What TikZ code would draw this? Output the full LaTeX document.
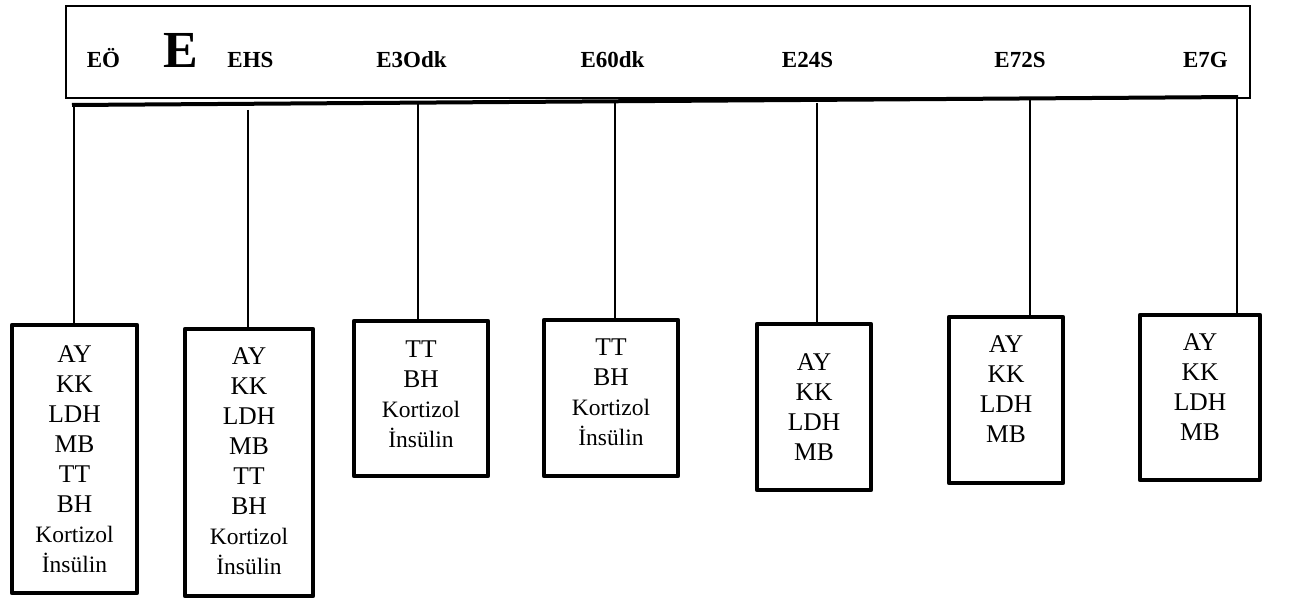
\documentclass[tikz,border=0pt]{standalone}
\usepackage{fontspec}
\setmainfont{Liberation Serif}
\usetikzlibrary{positioning}
\newcommand{\hrm}[1]{{\fontsize{23.5}{29}\selectfont #1}}

\begin{document}
\begin{tikzpicture}[x=1pt,y=-1pt,
  every node/.style={inner sep=0pt,outer sep=0pt},
  tp/.style={font=\fontsize{23}{27}\selectfont\bfseries,anchor=base},
  sample/.style={draw,line width=4.5pt,line join=round},
  list/.style={align=center,anchor=north,font=\fontsize{25.5}{30}\selectfont}]
\useasboundingbox (0,0) rectangle (1312,599);
% time axis frame
\draw[line width=1.5pt] (66,6) rectangle (1250,98);
\node[tp] (eo)  at (103.5,68) {EÖ};
\node[tp,font=\fontsize{52}{56}\selectfont\bfseries] (ebig) at (181,68) {E};
\node[tp] (ehs) at (250.5,68) {EHS};
\node[tp] (e30) at (411.5,68) {E3Odk};
\node[tp] (e60) at (612.5,68) {E60dk};
\node[tp] (e24) at (807.5,68) {E24S};
\node[tp] (e72) at (1020,68) {E72S};
\node[tp] (e7g) at (1205.5,68) {E7G};
\coordinate (barL) at (72,105);
\coordinate (barR) at (1238,97);
\draw[line width=4pt] (barL) -- (barR);
% sample boxes
\node[sample,minimum width=125pt,minimum height=268pt] (b1) at (74.5,459) {};
\node[sample,minimum width=128pt,minimum height=267pt] (b2) at (249,462.5) {};
\node[sample,minimum width=134pt,minimum height=155pt] (b3) at (421,398.5) {};
\node[sample,minimum width=134pt,minimum height=156pt] (b4) at (611,398) {};
\node[sample,minimum width=114pt,minimum height=166pt] (b5) at (814,407) {};
\node[sample,minimum width=114pt,minimum height=166pt] (b6) at (1006,400) {};
\node[sample,minimum width=120pt,minimum height=165pt] (b7) at (1200,397.5) {};
\node[list,below=20.5pt of b1.north] (l1) {AY\\KK\\LDH\\MB\\TT\\BH\\\hrm{Kortizol}\\\hrm{İnsülin}};
\node[list,below=18.5pt of b2.north] (l2) {AY\\KK\\LDH\\MB\\TT\\BH\\\hrm{Kortizol}\\\hrm{İnsülin}};
\node[list,below=19.5pt of b3.north] (l3) {TT\\BH\\\hrm{Kortizol}\\\hrm{İnsülin}};
\node[list,below=18.5pt of b4.north] (l4) {TT\\BH\\\hrm{Kortizol}\\\hrm{İnsülin}};
\node[list,below=29.5pt of b5.north] (l5) {AY\\KK\\LDH\\MB};
\node[list,below=18.5pt of b6.north] (l6) {AY\\KK\\LDH\\MB};
\node[list,below=18.5pt of b7.north] (l7) {AY\\KK\\LDH\\MB};
% connectors
\coordinate (t1) at (74,105);
\coordinate (t2) at (248,110);
\coordinate (t3) at (418,103);
\coordinate (t4) at (615,103);
\coordinate (t5) at (817,103);
\coordinate (t6) at (1030,100);
\coordinate (t7) at (1237,97);
\foreach \i in {1,...,7}
  \draw[line width=1.5pt] (t\i) -- (t\i |- b\i.north);
\end{tikzpicture}
\end{document}
